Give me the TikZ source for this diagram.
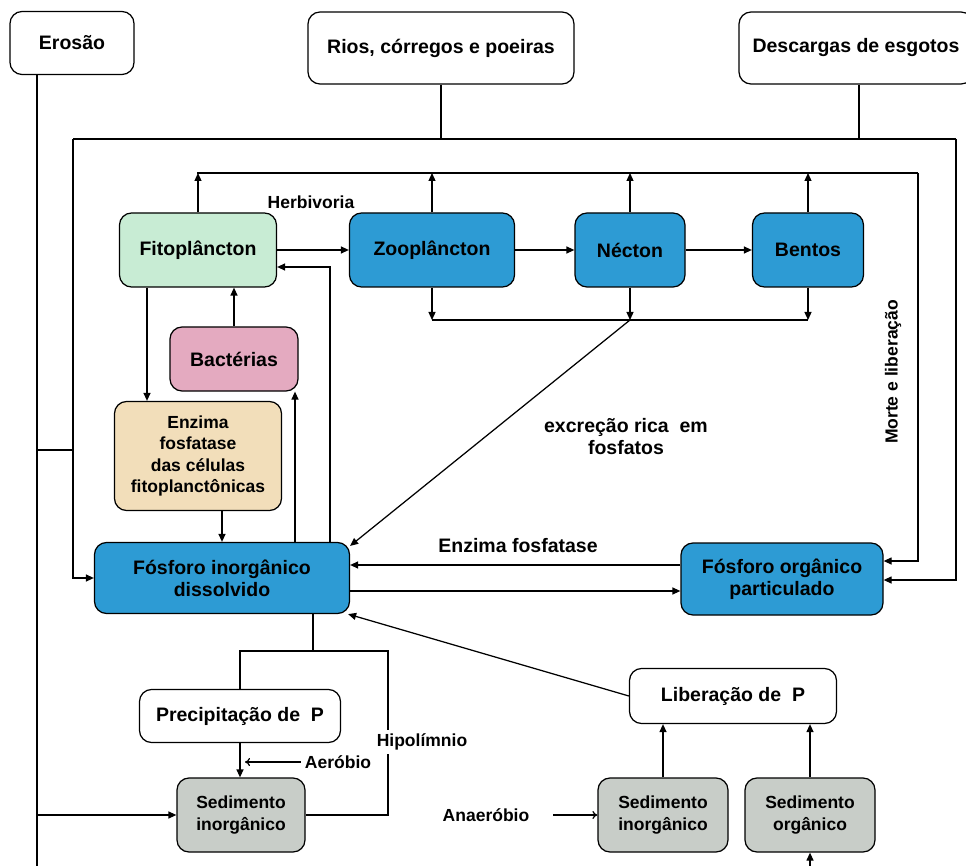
\documentclass[tikz,border=0pt]{standalone}
\usepackage{fontspec}
\setmainfont{Liberation Sans}
\usetikzlibrary{arrows.meta}
\definecolor{azul}{RGB}{45,155,212}
\definecolor{verdefito}{RGB}{200,236,212}
\definecolor{rosabac}{RGB}{228,170,192}
\definecolor{beigeenz}{RGB}{242,222,186}
\definecolor{cinzased}{RGB}{200,205,200}
\begin{document}
\begin{tikzpicture}[x=1pt, y=-1pt, line width=1.25pt, >={Triangle[length=8pt,width=7pt]},
	every node/.style={font=\bfseries\fontsize{19.5}{22}\selectfont},
	n/.style={draw, rounded corners=12pt, align=center, inner sep=0pt},
	sm/.style={font=\bfseries\fontsize{17.5}{21.5}\selectfont},
	open/.style={-{To[length=5pt,width=8pt]}}]
	\useasboundingbox (0,0) rectangle (966,866);

	\node[n, minimum width=124pt, minimum height=63pt] (ero) at (72,43) {Erosão};
	\node[n, minimum width=266pt, minimum height=72pt] (rios) at (441,48) {Rios, córregos e poeiras};
	\node[n, minimum width=234pt, minimum height=72pt] (desc) at (856,48) {Descargas de esgotos};

	\node[n, fill=verdefito, minimum width=157pt, minimum height=74pt] (fito) at (198,250) {Fitoplâncton};
	\node[n, fill=azul, minimum width=165pt, minimum height=74pt] (zoo) at (432,250) {Zooplâncton};
	\node[n, fill=azul, minimum width=110pt, minimum height=74pt] (nec) at (630,250) {Nécton};
	\node[n, fill=azul, minimum width=111pt, minimum height=74pt] (ben) at (808,250) {Bentos};
	\node[n, fill=rosabac, minimum width=128pt, minimum height=64pt] (bac) at (234,359) {Bactérias};
	\node[n, sm, fill=beigeenz, minimum width=167pt, minimum height=109pt] (enz) at (198,456) {Enzima\\fosfatase\\das células\\fitoplanctônicas};
	\node[n, fill=azul, minimum width=255pt, minimum height=71pt] (pin) at (222,578) {Fósforo inorgânico\\dissolvido};
	\node[n, fill=azul, minimum width=202pt, minimum height=72pt] (porg) at (782,579) {Fósforo orgânico\\particulado};
	\node[n, minimum width=201pt, minimum height=53pt] (prec) at (240,716) {Precipitação de~~P};
	\node[n, sm, fill=cinzased, minimum width=128pt, minimum height=74pt] (sedi) at (241,815) {Sedimento\\inorgânico};
	\node[n, minimum width=207pt, minimum height=55pt] (lib) at (733,696) {Liberação de~~P};
	\node[n, sm, fill=cinzased, minimum width=130pt, minimum height=74pt] (sedi2) at (663,815) {Sedimento\\inorgânico};
	\node[n, sm, fill=cinzased, minimum width=130pt, minimum height=74pt] (sedo) at (810,815) {Sedimento\\orgânico};

	% rotulos
	\node[sm] (herb) at (311,202) {Herbivoria};
	\node[align=center] (exc) at (626,437) {excreção rica~~em\\fosfatos};
	\node (enzf) at (518,546) {Enzima fosfatase};
	\node[sm, rotate=90] (morte) at (893,372) {Morte e liberação};
	\node[sm] (aer) at (338,762) {Aeróbio};
	\node[sm] (ana) at (486,815) {Anaeróbio};

	\coordinate (o1) at (73,139);
	\coordinate (o2) at (956,139);
	\coordinate (i1) at (197,173);
	\coordinate (i2) at (918,173);
	\coordinate (d1) at (432,320);
	\coordinate (d2) at (808,320);
	\coordinate (etop) at (37,75);
	\coordinate (ebot) at (37,870);
	\coordinate (e1) at (37,450);
	\coordinate (h1) at (240,651);
	\coordinate (h2) at (388,651);
	\coordinate (b1) at (810,870);

	% entradas externas
	\draw (o1) -- (o2);
	\draw (rios.south) -- (rios.south |- o1);
	\draw ([xshift=3pt]desc.south) -- ([xshift=3pt]desc.south |- o1);
	\draw[->] (o1) |- (pin.west);
	\draw[->] (o2) |- ([yshift=-1pt]porg.east);
	\draw (etop) -- (ebot);
	\draw (e1) -- (e1 -| o1);
	\draw[->] (sedi.west -| etop) -- (sedi.west);

	% morte e liberacao
	\draw (i1) -- (i2);
	\draw[->] (fito.north) -- (fito.north |- i1);
	\draw[->] (zoo.north) -- (zoo.north |- i1);
	\draw[->] (nec.north) -- (nec.north |- i1);
	\draw[->] (ben.north) -- (ben.north |- i1);
	\draw[->] (i2) |- ([yshift=18pt]porg.east);

	% cadeia
	\draw[->] (fito) -- (zoo);
	\draw[->] (zoo) -- (nec);
	\draw[->] (nec) -- (ben);
	\draw[->] ([xshift=108pt]pin.north) |- ([yshift=-17pt]fito.east);
	\draw[->] (bac.north) -- (bac.north |- fito.south);
	\draw[->] ([xshift=-51pt]fito.south) -- ([xshift=-51pt]fito.south |- enz.north);
	\draw[->] (enz.south -| pin) -- (pin.north);
	\draw[->] ([xshift=73pt]pin.north) -- ([xshift=73pt]pin.north |- bac.south);

	% excrecao
	\draw (d1) -- (d2);
	\draw[->] (zoo.south) -- (zoo.south |- d1);
	\draw[->] (nec.south) -- (nec.south |- d1);
	\draw[->] (ben.south) -- (ben.south |- d1);
	\draw[->] (nec.south |- d1) -- ([yshift=-4pt]pin.north east);

	% fosforo
	\draw[->] ([yshift=14pt]porg.west) -- ([yshift=14pt]porg.west -| pin.east);
	\draw[->] ([yshift=-13pt]pin.east) -- ([yshift=-13pt]pin.east -| porg.west);

	% sedimento
	\draw ([xshift=91pt]pin.south) -- ([xshift=91pt]pin.south |- h1);
	\draw (prec.north -| h1) -- (h1) -- (h2) -- (h2 |- sedi.east) -- (sedi.east);
	\node[sm, fill=white] (hipo) at (422,742) {Hipolímnio};
	\draw[->] (prec.south) -- (prec.south |- sedi.north);
	\draw[open] (aer.west) -- ([xshift=5pt]aer.west -| prec.south);
	\draw[->] (lib.west) -- ([xshift=-2pt]pin.south east);
	\draw[->] (sedi2.north) -- (sedi2.north |- lib.south);
	\draw[->] (sedo.north) -- (sedo.north |- lib.south);
	\draw[open] ([xshift=20pt]ana.east) -- (sedi2.west);
	\draw[->] (b1) -- (sedo.south);
\end{tikzpicture}
\end{document}
